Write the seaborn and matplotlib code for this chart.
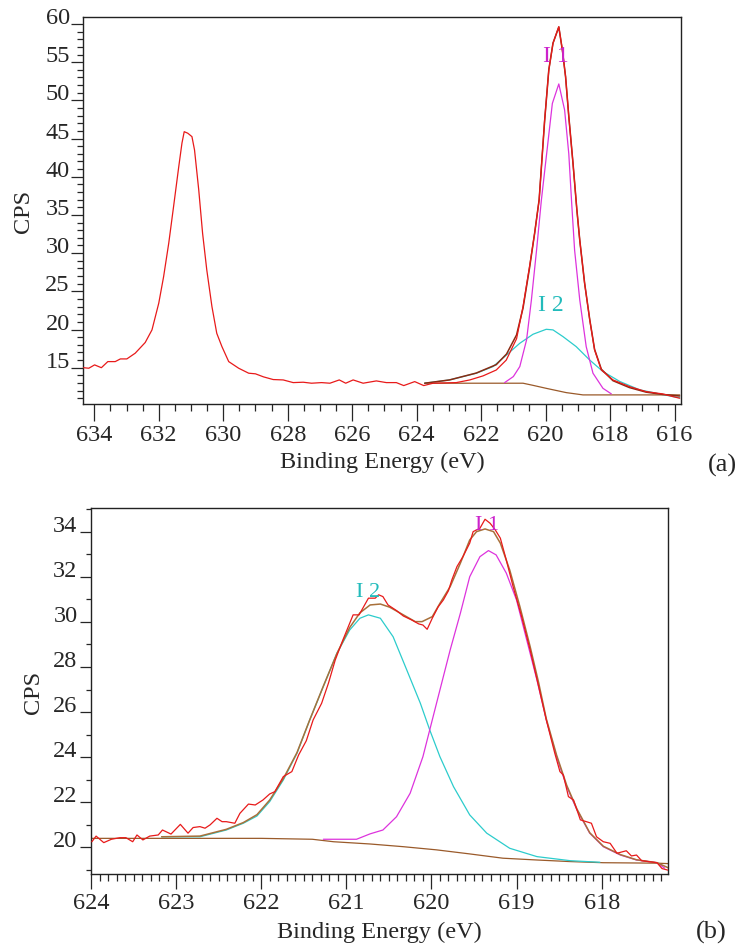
import matplotlib
matplotlib.use("Agg")
import matplotlib.pyplot as plt
import seaborn as sns
from matplotlib.ticker import MultipleLocator

# ---- panel (a): wide scan ----
a_raw_x = [634.33, 634.17, 633.99, 633.78, 633.58, 633.35, 633.19, 632.99, 632.73, 632.42,
           632.21, 632.0, 631.85, 631.69, 631.54, 631.38, 631.28, 631.21, 631.1, 630.97,
           630.89, 630.76, 630.64, 630.51, 630.35, 630.2, 630.04, 629.83, 629.52, 629.21,
           629.0, 628.75, 628.45, 628.14, 627.83, 627.52, 627.26, 626.95, 626.69, 626.4,
           626.2, 625.97, 625.66, 625.25, 624.94, 624.63, 624.4, 624.06, 623.78, 623.49,
           622.77, 622.35, 621.94, 621.53, 621.22, 620.9, 620.7, 620.5, 620.34, 620.2,
           620.13, 620.03, 619.9, 619.77, 619.59, 619.48, 619.38, 619.28, 619.15, 619.03,
           618.94, 618.79, 618.63, 618.48, 618.27, 617.91, 617.4, 616.88, 616.37, 616.05, 615.84]
a_raw_y = [15.0, 14.93, 15.37, 15.0, 15.8, 15.8, 16.15, 16.15, 16.9, 18.3,
           19.95, 23.44, 26.9, 31.3, 36.1, 41.3, 44.4, 45.9, 45.7, 45.25,
           43.5, 38.3, 32.6, 27.8, 23.0, 19.5, 17.76, 15.8, 14.93, 14.28,
           14.2, 13.8, 13.45, 13.4, 13.05, 13.1, 12.97, 13.05, 12.97, 13.4,
           12.97, 13.4, 12.97, 13.27, 13.05, 13.05, 12.66, 13.18, 12.66, 12.97,
           13.05, 13.4, 13.93, 14.7, 16.0, 18.8, 23.0, 28.2, 32.6, 36.96,
           41.3, 47.4, 53.98, 57.47, 59.65, 56.6, 53.1, 47.87, 41.76, 35.65,
           31.7, 26.06, 21.25, 17.33, 14.7, 13.4, 12.53, 11.87, 11.57, 11.22, 11.0]

a_env_x = [623.75, 622.98, 622.15, 621.53, 621.21, 620.9, 620.7, 620.5, 620.34, 620.2,
           620.03, 619.9, 619.77, 619.59, 619.48, 619.38, 619.28, 619.15, 619.03, 618.94,
           618.79, 618.63, 618.48, 618.27, 617.91, 617.4, 616.88, 616.37, 615.84]
a_env_y = [12.97, 13.4, 14.3, 15.4, 16.8, 19.3, 22.8, 28.0, 32.6, 37.0,
           47.3, 54.0, 57.5, 59.6, 56.6, 53.1, 47.9, 41.8, 35.7, 31.7,
           26.1, 21.3, 17.4, 14.8, 13.3, 12.4, 11.8, 11.5, 11.3]

a_bg_x = [623.75, 620.7, 620.4, 619.98, 619.36, 618.84, 615.84]
a_bg_y = [12.97, 12.97, 12.7, 12.3, 11.74, 11.44, 11.44]

a_i2_x = [623.75, 622.98, 622.15, 621.63, 621.21, 620.8, 620.39, 619.98, 619.77, 619.46,
          619.05, 618.63, 618.22, 617.7, 617.08, 616.46, 616.05, 615.84]
a_i2_y = [12.97, 13.4, 14.28, 15.15, 16.68, 18.2, 19.38, 20.03, 19.95, 19.07,
          17.76, 16.0, 14.5, 13.2, 12.1, 11.57, 11.22, 11.1]

a_i1_x = [621.27, 621.0, 620.8, 620.59, 620.44, 620.28, 620.13, 619.93, 619.79, 619.59,
          619.41, 619.28, 619.19, 619.1, 618.94, 618.74, 618.53, 618.22, 617.96]
a_i1_y = [13.05, 13.84, 15.15, 18.64, 23.87, 30.4, 36.96, 44.4, 49.6, 52.15,
          48.74, 43.0, 36.5, 30.4, 23.87, 17.76, 14.28, 12.3, 11.57]

# ---- panel (b): detail ----
b_raw_x = [623.99, 623.94, 623.85, 623.76, 623.66, 623.59, 623.51, 623.46, 623.39, 623.31,
           623.21, 623.16, 623.06, 622.95, 622.86, 622.8, 622.72, 622.66, 622.6, 622.52,
           622.46, 622.41, 622.31, 622.25, 622.15, 622.07, 621.98, 621.9, 621.84, 621.74,
           621.64, 621.56, 621.47, 621.39, 621.29, 621.21, 621.13, 621.04, 620.96, 620.92,
           620.85, 620.74, 620.66, 620.62, 620.57, 620.51, 620.41, 620.33, 620.23, 620.15,
           620.1, 620.05, 619.99, 619.92, 619.86, 619.8, 619.76, 619.7, 619.63, 619.55,
           619.51, 619.43, 619.37, 619.31, 619.25, 619.19, 619.12, 619.04, 618.94, 618.84,
           618.74, 618.65, 618.55, 618.49, 618.45, 618.39, 618.33, 618.25, 618.18, 618.12,
           618.06, 617.98, 617.9, 617.82, 617.71, 617.65, 617.59, 617.53, 617.35, 617.29, 617.22]
b_raw_y = [20.25, 20.5, 20.21, 20.36, 20.43, 20.43, 20.25, 20.55, 20.33, 20.5,
           20.55, 20.77, 20.59, 21.02, 20.63, 20.88, 20.92, 20.85, 21.0, 21.29,
           21.14, 21.14, 21.07, 21.51, 21.92, 21.88, 22.1, 22.37, 22.47, 23.14,
           23.36, 24.1, 24.73, 25.65, 26.39, 27.28, 28.31, 29.2, 29.94, 30.31,
           30.31, 31.05, 31.05, 31.2, 31.12, 30.75, 30.5, 30.26, 30.08, 29.91,
           29.86, 29.67, 30.16, 30.67, 30.97, 31.38, 31.86, 32.45, 32.89, 33.49,
           34.0, 34.15, 34.55, 34.37, 34.08, 33.71, 32.74, 31.56, 30.23, 28.75,
           27.13, 25.65, 24.17, 23.36, 23.21, 22.25, 22.1, 21.22, 21.14, 21.07,
           20.47, 20.25, 20.18, 19.74, 19.85, 19.62, 19.66, 19.41, 19.32, 19.06, 18.99]

b_env_x = [623.17, 622.72, 622.41, 622.21, 622.05, 621.9, 621.74, 621.58, 621.43, 621.27,
           621.11, 620.96, 620.84, 620.72, 620.6, 620.49, 620.33, 620.19, 620.11, 619.99,
           619.9, 619.78, 619.66, 619.55, 619.47, 619.37, 619.27, 619.19, 619.08, 618.96,
           618.84, 618.74, 618.65, 618.53, 618.41, 618.29, 618.14, 617.98, 617.78, 617.59,
           617.35, 617.22]
b_env_y = [20.47, 20.5, 20.8, 21.1, 21.45, 22.1, 23.05, 24.2, 25.65, 27.15,
           28.6, 29.75, 30.4, 30.75, 30.79, 30.65, 30.31, 30.01, 30.01, 30.23,
           30.82, 31.56, 32.6, 33.63, 34.0, 34.12, 34.0, 33.49, 32.3, 30.67,
           28.9, 27.3, 25.7, 24.1, 22.75, 21.7, 20.65, 20.05, 19.68, 19.45,
           19.32, 19.1]

b_bg_x = [624.0, 622.0, 621.4, 621.15, 620.72, 620.33, 619.94, 619.55, 619.16, 618.76,
          618.37, 617.98, 617.35, 617.22]
b_bg_y = [20.4, 20.4, 20.36, 20.25, 20.15, 20.03, 19.89, 19.71, 19.52, 19.44,
          19.37, 19.32, 19.3, 19.28]

b_i2_x = [623.17, 622.72, 622.41, 622.21, 622.05, 621.9, 621.74, 621.58, 621.43, 621.27,
          621.11, 620.96, 620.84, 620.74, 620.6, 620.45, 620.29, 620.13, 620.02, 619.9,
          619.74, 619.55, 619.35, 619.08, 618.76, 618.37, 618.02]
b_i2_y = [20.47, 20.47, 20.77, 21.07, 21.39, 22.03, 22.99, 24.17, 25.65, 27.13,
          28.61, 29.64, 30.16, 30.31, 30.16, 29.34, 27.87, 26.39, 25.21, 24.02,
          22.69, 21.44, 20.63, 19.96, 19.59, 19.41, 19.34]

b_i1_x = [621.27, 620.88, 620.72, 620.57, 620.41, 620.25, 620.1, 619.94, 619.78, 619.66,
          619.55, 619.43, 619.33, 619.24, 619.12, 619.0, 618.89, 618.76, 618.65, 618.53,
          618.41, 618.29, 618.14, 617.98, 617.78, 617.59, 617.35, 617.26]
b_i1_y = [20.36, 20.36, 20.6, 20.77, 21.36, 22.4, 24.02, 26.39, 28.75, 30.38,
          32.0, 32.89, 33.16, 32.97, 32.16, 30.97, 29.34, 27.42, 25.65, 24.02,
          22.69, 21.66, 20.63, 20.03, 19.66, 19.44, 19.32, 19.08]

RED = '#e81a1a'
CYAN = '#2ccccc'
MAG = '#dd33dd'
BROWN = '#9a5a2a'

sns.set_style('ticks')
plt.rcParams['font.family'] = ['Liberation Serif', 'DejaVu Serif']
plt.rcParams['font.size'] = 17.5

fig = plt.figure(figsize=(7.41, 9.47), dpi=100)
ax1 = fig.add_axes([0.1120, 0.5734, 0.8070, 0.4087])
ax2 = fig.add_axes([0.1228, 0.0771, 0.7787, 0.3865])


def line(ax, x, y, color, lw=0.9, z=2):
    sns.lineplot(x=x, y=y, ax=ax, color=color, lw=lw, sort=False, estimator=None, zorder=z)


# panel (a)
line(ax1, a_bg_x, a_bg_y, BROWN)
line(ax1, a_i2_x, a_i2_y, CYAN)
line(ax1, a_i1_x, a_i1_y, MAG)
line(ax1, a_env_x, a_env_y, '#8b2a12', lw=1.1)
line(ax1, a_raw_x, a_raw_y, RED, z=3)
ax1.text(619.69, 55.7, 'I 1', color='#cc22cc', fontsize=17, ha='center', va='center')
ax1.text(619.83, 23.2, 'I 2', color='#22bbbb', fontsize=17, ha='center', va='center')

ax1.set_xlim(634.35, 615.8)
ax1.set_ylim(10.25, 60.92)
ax1.set_xticks(range(634, 615, -2))
ax1.set_yticks(range(15, 61, 5))
ax1.xaxis.set_minor_locator(MultipleLocator(0.5))
ax1.yaxis.set_minor_locator(MultipleLocator(1))
ax1.tick_params(axis='x', which='major', length=12, width=0.9, pad=3, labelsize=17.5)
ax1.tick_params(axis='x', which='minor', length=5, width=0.9)
ax1.tick_params(axis='y', which='major', length=8.5, width=0.9, pad=1, labelsize=17.5)
ax1.tick_params(axis='y', which='minor', length=4.3, width=0.9)

# panel (b)
line(ax2, b_bg_x, b_bg_y, BROWN)
line(ax2, b_i2_x, b_i2_y, CYAN)
line(ax2, b_i1_x, b_i1_y, MAG)
line(ax2, b_env_x, b_env_y, '#a8703a', lw=1.1)
line(ax2, b_raw_x, b_raw_y, RED, z=3)
ax2.text(619.35, 34.26, 'I 1', color='#cc22cc', fontsize=16, ha='center', va='center')
ax2.text(620.75, 31.3, 'I 2', color='#22bbbb', fontsize=16, ha='center', va='center')

ax2.set_xlim(624.0, 617.22)
ax2.set_ylim(18.82, 35.05)
ax2.set_xticks(range(624, 617, -1))
ax2.set_yticks(range(20, 35, 2))
ax2.xaxis.set_minor_locator(MultipleLocator(0.1))
ax2.yaxis.set_minor_locator(MultipleLocator(1))
ax2.tick_params(axis='x', which='major', length=10.5, width=0.9, pad=3, labelsize=17.5)
ax2.tick_params(axis='x', which='minor', length=5, width=0.9)
ax2.tick_params(axis='y', which='major', length=7.7, width=0.9, pad=2, labelsize=17.5)
ax2.tick_params(axis='y', which='minor', length=3.4, width=0.9)

for ax, lab, ly, lx, px, py in [(ax1, '(a)', -0.150, -0.0987, 1.0686, -0.160),
                                (ax2, '(b)', -0.1585, -0.0988, 1.0745, -0.1585)]:
    ax.set_xlabel('Binding Energy (eV)', fontsize=17.5, va='center')
    ax.set_ylabel('CPS', fontsize=17.5, va='center')
    ax.xaxis.set_label_coords(0.5, ly)
    ax.yaxis.set_label_coords(lx, 0.497)
    ax.text(px, py, lab, transform=ax.transAxes, fontsize=19, ha='center', va='center')
    for s in ax.spines.values():
        s.set_color('#222222')
        s.set_linewidth(1.0)
    for t in ax.get_yticklabels():
        t.set_verticalalignment('baseline')

fig.savefig('out.png', dpi=100)
